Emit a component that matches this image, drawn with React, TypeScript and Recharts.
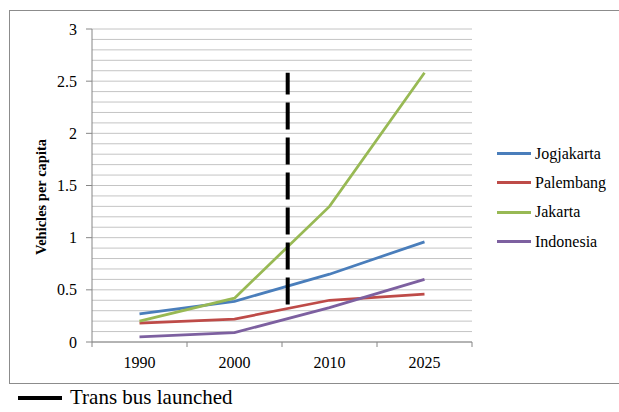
import { LineChart, Line, XAxis, YAxis, CartesianGrid, ReferenceLine } from "recharts";

const years = ["1990", "2000", "2010", "2025"];
const jogjakarta = [0.27, 0.39, 0.65, 0.96];
const palembang = [0.18, 0.22, 0.4, 0.46];
const jakarta = [0.2, 0.42, 1.3, 2.58];
const indonesia = [0.05, 0.09, 0.33, 0.6];

// bus launch sits a little past the middle of the 2000–2010 gap
const busLaunchPos = 1.56;
const busLineRange = [0.36, 2.58];

const yTicks = [0, 0.1, 0.2, 0.3, 0.4, 0.5, 0.6, 0.7, 0.8, 0.9, 1, 1.1, 1.2, 1.3, 1.4, 1.5, 1.6, 1.7, 1.8, 1.9, 2, 2.1, 2.2, 2.3, 2.4, 2.5, 2.6, 2.7, 2.8, 2.9, 3];
const xTicks = [-0.5, 0.5, 1.5, 2.5, 3.5];

const data = years.map((year, i) => ({
  idx: i,
  year,
  Jogjakarta: jogjakarta[i],
  Palembang: palembang[i],
  Jakarta: jakarta[i],
  Indonesia: indonesia[i],
}));

const series = [
  { key: "Jogjakarta", color: "#4A7EBB" },
  { key: "Palembang", color: "#BE4B48" },
  { key: "Jakarta", color: "#98B954" },
  { key: "Indonesia", color: "#7D60A0" },
];

const FONT = "Liberation Serif, DejaVu Serif, serif";
const AXIS = "#868686";

const YTick = (props: any) => {
  const { x, y, payload } = props;
  const v = payload.value;
  if (Math.round(v * 10) % 5 !== 0) return null;
  return (
    <g>
      <line x1={x + 9} x2={x + 15} y1={y} y2={y} stroke={AXIS} />
      <text x={x} y={y} dy="0.35em" textAnchor="end" fontFamily={FONT} fontSize={16} fill="#000">
        {String(v)}
      </text>
    </g>
  );
};

const XTick = (props: any) => {
  const { x, y, payload, width } = props;
  const i = Math.round(payload.value + 0.5);
  const half = width / (years.length * 2);
  return (
    <g>
      <line x1={x} x2={x} y1={y - 15} y2={y - 10} stroke={AXIS} />
      {i < years.length && (
        <text x={x + half} y={y} dy="0.71em" textAnchor="middle" fontFamily={FONT} fontSize={16} fill="#000">
          {years[i]}
        </text>
      )}
    </g>
  );
};

export default function App() {
  return (
    <div style={{ position: "absolute", left: 0, top: 0, width: 619, height: 412, background: "#fff" }}>
      <div
        style={{
          position: "absolute",
          left: 9,
          top: 10,
          width: 620,
          height: 372,
          border: "1px solid #8c8c8c",
          borderRight: "none",
        }}
      />
      <div style={{ position: "absolute", left: 0, top: 0 }}>
        <LineChart width={619} height={412} data={data} margin={{ top: 29, right: 147, bottom: 40, left: 42 }}>
          <CartesianGrid horizontal vertical={false} stroke="#c4c4c4" />
          <XAxis
            dataKey="idx"
            type="number"
            domain={[-0.5, 3.5]}
            ticks={xTicks}
            tick={<XTick />}
            tickSize={5}
            tickMargin={10}
            height={30}
            stroke={AXIS}
            tickLine={false}
            interval={0}
          />
          <YAxis
            domain={[0, 3]}
            ticks={yTicks}
            tick={<YTick />}
            tickSize={6}
            tickMargin={9}
            width={50}
            stroke={AXIS}
            tickLine={false}
            interval={0}
            label={{
              content: () => (
                <text
                  x={46}
                  y={197}
                  transform="rotate(-90 46 197)"
                  textAnchor="middle"
                  fontFamily={FONT}
                  fontSize={14.5}
                  fontWeight="bold"
                  fill="#000"
                >
                  Vehicles per capita
                </text>
              ),
            }}
          />
          {series.map((s) => (
            <Line
              key={s.key}
              dataKey={s.key}
              stroke={s.color}
              strokeWidth={2.75}
              dot={false}
              isAnimationActive={false}
            />
          ))}
          <ReferenceLine
            segment={[
              { x: busLaunchPos, y: busLineRange[0] },
              { x: busLaunchPos, y: busLineRange[1] },
            ]}
            stroke="#000"
            strokeWidth={4}
            strokeDasharray="27 8"
          />
        </LineChart>
      </div>
      <div style={{ position: "absolute", left: 497, top: 139, fontFamily: FONT, fontSize: 16, color: "#000" }}>
        {series.map((s) => (
          <div key={s.key} style={{ display: "flex", alignItems: "center", height: 29.3 }}>
            <div style={{ width: 34, height: 3, background: s.color, marginRight: 4 }} />
            <span>{s.key}</span>
          </div>
        ))}
      </div>
      <div
        style={{
          position: "absolute",
          left: 18,
          top: 385,
          display: "flex",
          alignItems: "center",
          fontFamily: FONT,
          fontSize: 21,
          color: "#000",
        }}
      >
        <div style={{ width: 44, height: 4, background: "#000", marginRight: 8 }} />
        <span>Trans bus launched</span>
      </div>
    </div>
  );
}
